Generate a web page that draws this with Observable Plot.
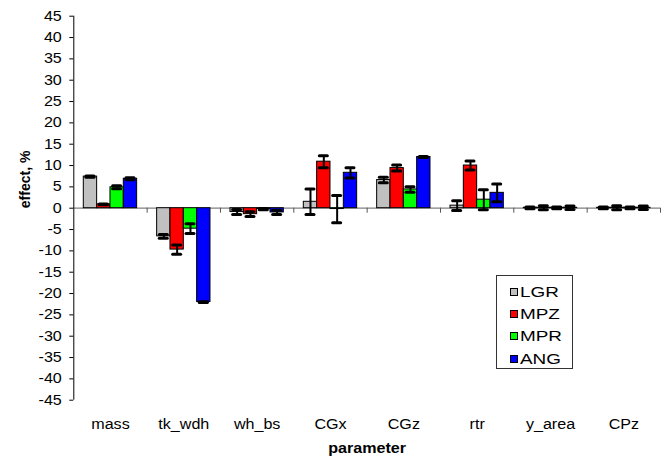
<!DOCTYPE html>
<html>
<head>
<meta charset="utf-8">
<script src="https://cdn.jsdelivr.net/npm/d3@7"></script>
<script src="https://cdn.jsdelivr.net/npm/@observablehq/plot@0.6"></script>
<style>
  html, body { margin: 0; padding: 0; background: #fff; }
  #wrap { position: relative; width: 667px; height: 461px; font-family: "Liberation Sans", Arial, sans-serif; }
  #legend { position: absolute; left: 495.7px; top: 275px; width: 75px; height: 92.3px; border: 1px solid #333; background: #fff; }
  .row { position: absolute; left: 13px; height: 16px; display: flex; align-items: center; }
  .sw { width: 6.3px; height: 6.3px; border: 1px solid #000; margin-right: 2px; }
  .lab { font-size: 15.5px; transform: scaleX(1.22); transform-origin: left center; color: #000; }
</style>
</head>
<body>
<div id="wrap"></div>
<script>
const categories = ["mass", "tk_wdh", "wh_bs", "CGx", "CGz", "rtr", "y_area", "CPz"];
const series = ["LGR", "MPZ", "MPR", "ANG"];
const colors = ["#C0C0C0", "#FF0000", "#00FF00", "#0000FF"];

const LGR     = [7.4, -6.6, -0.9, 1.5, 6.6, 0.6, 0.1, 0.1];
const LGR_err = [0.15, 0.45, 0.6, 3.0, 0.65, 1.15, 0.2, 0.2];
const MPZ     = [0.9, -9.7, -1.4, 10.9, 9.4, 10.0, 0.1, 0.1];
const MPZ_err = [0.1, 1.1, 0.55, 1.4, 0.7, 1.05, 0.45, 0.45];
const MPR     = [4.9, -4.8, -0.2, -0.2, 4.4, 2.0, 0.1, 0.1];
const MPR_err = [0.35, 1.15, 0.15, 3.2, 0.65, 2.35, 0.2, 0.2];
const ANG     = [6.9, -22.0, -1.0, 8.3, 12.0, 3.6, 0.1, 0.1];
const ANG_err = [0.25, 0.1, 0.5, 1.2, 0.1, 2.1, 0.4, 0.4];

const yTicks = d3.range(-45, 46, 5);

const values = {LGR, MPZ, MPR, ANG};
const errors = {LGR: LGR_err, MPZ: MPZ_err, MPR: MPR_err, ANG: ANG_err};

// band geometry in category-index units
const bw = 2 / 11;            // bar width
const off = 1.5 / 11;         // group offset within category
const rows = [];
series.forEach((s, si) => categories.forEach((c, ci) => {
  rows.push({cat: c, series: s, ci, si, value: values[s][ci], err: errors[s][ci]});
}));
const x1 = d => d.ci + off + d.si * bw;
const x2 = d => d.ci + off + (d.si + 1) * bw;
const xc = d => d.ci + off + (d.si + 0.5) * bw;
const capHalf = bw * 0.3;

const centers = categories.map((c, i) => i + 0.5);
const boundaries = categories.map((c, i) => i + 1);

const plot = Plot.plot({
  width: 667,
  height: 461,
  marginLeft: 73.3,
  marginRight: 7,
  marginTop: 15.7,
  marginBottom: 61.3,
  style: {fontFamily: "'Liberation Sans', Arial, sans-serif", fontSize: "14px", background: "#fff", color: "#000"},
  x: {type: "linear", domain: [0, categories.length]},
  y: {domain: [-45, 45]},
  marks: [
    Plot.axisY({ticks: yTicks, tickSize: 4, tickPadding: 8, tickFormat: d => String(d), label: null, fontSize: 14}),
    Plot.axisX({ticks: centers, tickSize: 0, tickPadding: 19, tickFormat: d => categories[Math.floor(d)], label: null, fontSize: 14}),
    Plot.ruleY([0], {stroke: "#808080", strokeWidth: 1.2}),
    Plot.ruleX(boundaries, {x: d => d, y1: 0, y2: 0, insetBottom: -5, stroke: "#555"}),
    Plot.rectY(rows, {x1, x2, y: "value", fill: d => colors[d.si], stroke: "#000", strokeWidth: 1}),
    Plot.ruleX(rows, {x: xc, y1: d => d.value - d.err, y2: d => d.value + d.err, stroke: "#000", strokeWidth: 2}),
    Plot.ruleY(rows, {y: d => d.value + d.err, x1: d => xc(d) - capHalf, x2: d => xc(d) + capHalf, stroke: "#000", strokeWidth: 3, strokeLinecap: "round"}),
    Plot.ruleY(rows, {y: d => d.value - d.err, x1: d => xc(d) - capHalf, x2: d => xc(d) + capHalf, stroke: "#000", strokeWidth: 3, strokeLinecap: "round"}),
    Plot.ruleX([0], {y1: -45, y2: 45, stroke: "#000"}),
    Plot.text(["effect, %"], {frameAnchor: "left", dx: -48, rotate: -90, fontWeight: "bold", fontSize: 14}),
    Plot.text(["parameter"], {frameAnchor: "bottom", dy: 53, fontWeight: "bold", fontSize: 14})
  ]
});

const wrap = document.getElementById("wrap");
wrap.appendChild(plot);

// reproduce the horizontally widened lettering of the original
plot.querySelectorAll("text").forEach(t => {
  const tr = (t.getAttribute("transform") || "") + (t.parentNode.getAttribute && (t.parentNode.getAttribute("transform") || ""));
  if (tr.includes("rotate")) return;
  const len = t.getComputedTextLength();
  if (len > 0) {
    t.setAttribute("textLength", len * 1.15);
    t.setAttribute("lengthAdjust", "spacingAndGlyphs");
  }
});

// legend
const legend = document.createElement("div");
legend.id = "legend";
const rowTops = [8.3, 29.7, 52.3, 75.3];
series.forEach((s, i) => {
  const r = document.createElement("div");
  r.className = "row";
  r.style.top = rowTops[i] + "px";
  const sw = document.createElement("div");
  sw.className = "sw";
  sw.style.background = colors[i];
  const lab = document.createElement("span");
  lab.className = "lab";
  lab.textContent = s;
  r.appendChild(sw);
  r.appendChild(lab);
  legend.appendChild(r);
});
wrap.appendChild(legend);
</script>
</body>
</html>
